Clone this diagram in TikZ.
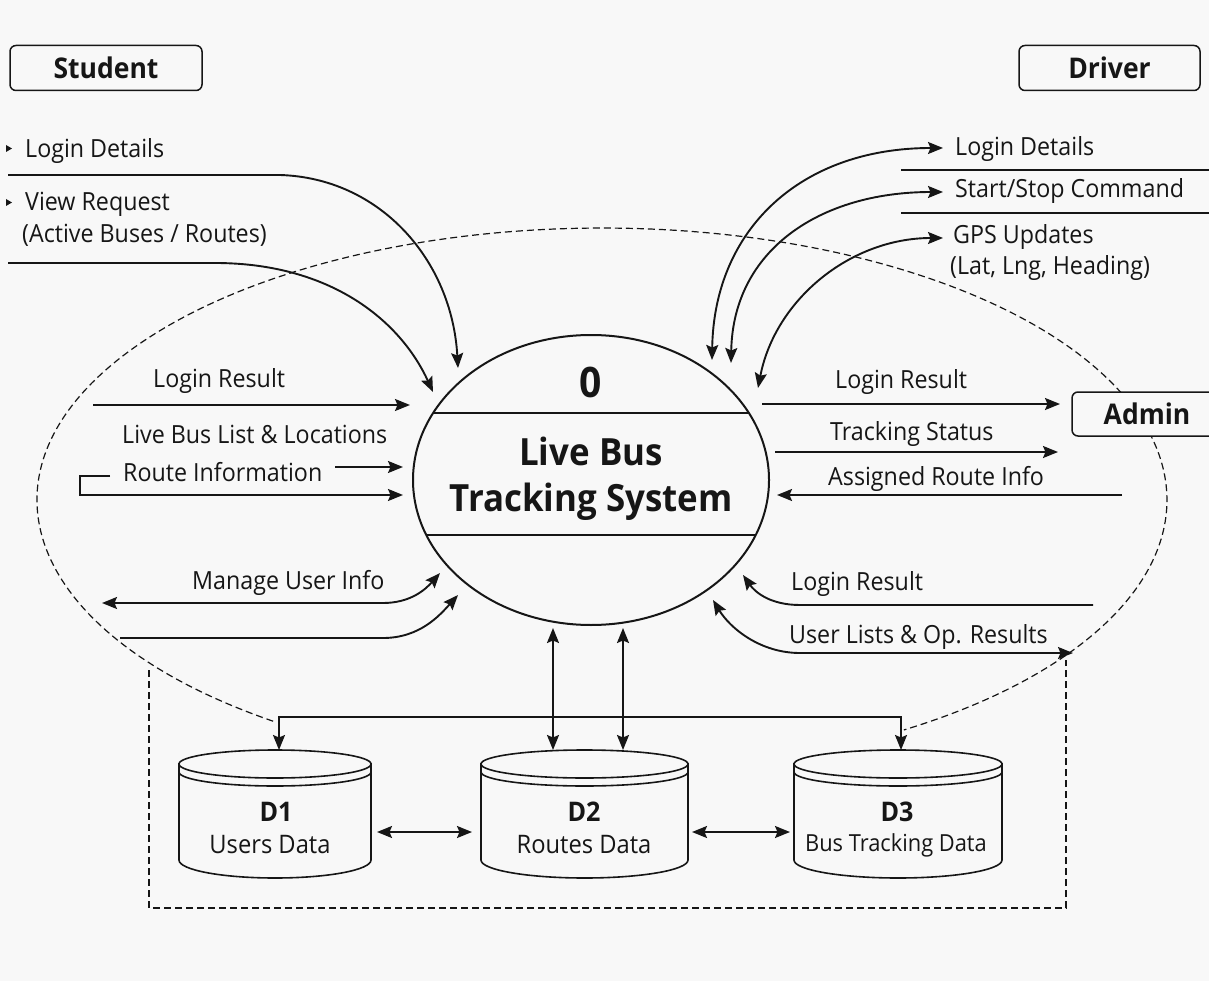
\documentclass[tikz,border=0pt]{standalone}
\usepackage{fontspec}
\setmainfont{Open Sans}[FakeStretch=0.93]
\usetikzlibrary{arrows.meta,shapes.geometric}
\definecolor{paper}{RGB}{248,248,248}
\definecolor{ink}{RGB}{22,22,22}
% cylinder for a data store: centre x, half width
\newcommand\drum[2]{%
  \filldraw[store] (#1-#2,764) -- (#1-#2,860)
    arc[start angle=180,end angle=0,x radius=#2,y radius=18] -- (#1+#2,764) -- cycle;
  \filldraw[store] (#1,764) ellipse[x radius=#2,y radius=14];
  \draw[store,fill=none] (#1-#2,772) arc[start angle=180,end angle=0,x radius=#2,y radius=14];
}
\begin{document}
\begin{tikzpicture}[x=1pt,y=-1pt,
  >={Stealth[length=15pt,width=12pt,inset=2.5pt]},
  flow/.style={draw=ink,line width=1.9pt},
  fence/.style={draw=ink,line width=1.2pt,dash pattern=on 7pt off 4pt},
  lbl/.style={inner sep=0pt,anchor=base west,text=ink,font=\fontsize{25}{29}\selectfont},
  ext/.style={draw=ink,line width=1.5pt,rounded corners=6pt,fill=paper,text=ink,
    font=\bfseries\fontsize{28.5}{32}\selectfont},
  store/.style={draw=ink,line width=1.6pt,fill=paper},
  storeid/.style={text=ink,font=\bfseries\fontsize{27}{31}\selectfont},
  storename/.style={text=ink,font=\fontsize{25.5}{29}\selectfont}]

\fill[paper] (0,0) rectangle (1209,981);
\useasboundingbox (0,0) rectangle (1209,981);
\clip (0,0) rectangle (1209,981);

% system boundary: open elliptical arc from D1 over the top to D3
\draw[fence] (273.1,721.2) arc[start angle=125.6,end angle=417.7,x radius=565,y radius=272];
\draw[fence] (149,670) -- (149,908) -- (1066,908) -- (1066,660);

% external entities
\node[ext,minimum width=192pt,minimum height=45pt] (student) at (106,68) {Student};
\node[ext,minimum width=181pt,minimum height=45pt] (driver) at (1109.5,68) {Driver};
\node[ext,minimum width=150pt,minimum height=44pt] (admin) at (1147,414) {Admin};

% process 0
\node[draw=ink,line width=2pt,ellipse,minimum width=356pt,minimum height=290pt,fill=paper]
  (proc) at (591,480) {};
\draw[ink,line width=1.6pt] (433,413) -- (749,413);
\draw[ink,line width=1.6pt] (426,535) -- (756,535);
\node[text=ink,font=\bfseries\fontsize{42}{46}\selectfont] (pid) at (591,382) {0};
\node[text=ink,align=center,font=\bfseries\fontsize{37.5}{46}\selectfont] (pname) at (591,479)
  {Live Bus\\Tracking System};

% data stores
\drum{275}{96}
\drum{584.5}{103.5}
\drum{898}{104}
\node[storeid] (d1) at (276,812) {D1};
\node[storename] (d1n) at (270,845) {Users Data};
\node[storeid] (d2) at (584,812) {D2};
\node[storename] (d2n) at (584,845) {Routes Data};
\node[storeid] (d3) at (897,812) {D3};
\node[storename,font=\fontsize{23.5}{27}\selectfont] (d3n) at (896,845) {Bus Tracking Data};

% student side labels
\node[lbl] (sld) at (25,158) {Login Details};
\node[lbl] (svr) at (25,211) {View Request};
\node[lbl] (svr2) at (22,243) {(Active Buses / Routes)};
\node[lbl] (slr) at (153,387) {Login Result};
\node[lbl] (sbl) at (122,443) {Live Bus List \& Locations};
\node[lbl] (sri) at (123,481) {Route Information};
\node[lbl] (smu) at (192,589) {Manage User Info};

% driver side labels
\node[lbl] (dld) at (955,156) {Login Details};
\node[lbl] (dss) at (955,198) {Start/Stop Command};
\node[lbl] (dgps) at (953,244) {GPS Updates};
\node[lbl] (dgps2) at (950,275) {(Lat, Lng, Heading)};

% admin side labels
\node[lbl] (alr) at (835,388) {Login Result};
\node[lbl] (ats) at (830,440) {Tracking Status};
\node[lbl] (ari) at (828,485) {Assigned Route Info};
\node[lbl] (alr2) at (791,590) {Login Result};
\node[lbl] (aul) at (789,643) {User Lists \& Op. Results};

% student flows
\fill[ink] (6,145) -- (12,148.5) -- (6,152) -- cycle;
\fill[ink] (6,199) -- (12,202.5) -- (6,206) -- cycle;
\draw[flow,->] (8,175) -- (280,175) .. controls (380,178) and (452,260) .. (458,368);
\draw[flow,->] (8,263) -- (215,263) .. controls (330,263) and (400,320) .. (433,392);
\draw[flow,->] (93,405) -- (410,405);
\draw[flow,->] (335,467) -- (403,467);
\draw[flow,->] (110,476) -- (80,476) -- (80,495) -- (403,495);
\draw[flow,<->] (102,603) -- (383,603) .. controls (410,603) and (425,590) .. (440,573);
\draw[flow,->] (120,638) -- (383,638) .. controls (420,638) and (440,615) .. (458,595);

% driver flows
\draw[flow,<->] (712,360) .. controls (714,230) and (800,148) .. (943,148);
\draw[flow,<->] (731,363) .. controls (733,250) and (820,192) .. (943,192);
\draw[flow,<->] (758,388) .. controls (775,300) and (850,238) .. (943,238);
\draw[ink,line width=1.6pt] (901,170) -- (1209,170);
\draw[ink,line width=1.6pt] (901,213) -- (1209,213);

% admin flows
\draw[flow,->] (762,404) -- (1060,404);
\draw[flow,->] (775,452) -- (1058,452);
\draw[flow,->] (1122,495) -- (777,495);
\draw[flow,->] (1093,605) -- (800,605) .. controls (770,605) and (755,592) .. (743,575);
\draw[flow,<->] (1073,653) -- (800,653) .. controls (760,653) and (730,628) .. (713,600);

% store flows
\draw[flow,<->] (553,628) -- (553,750);
\draw[flow,<->] (623,628) -- (623,750);
\draw[flow,<->] (279,750) -- (279,717) -- (901,717) -- (901,750);
\draw[flow,<->] (377,832) -- (472,832);
\draw[flow,<->] (692,832) -- (790,832);
\end{tikzpicture}
\end{document}
